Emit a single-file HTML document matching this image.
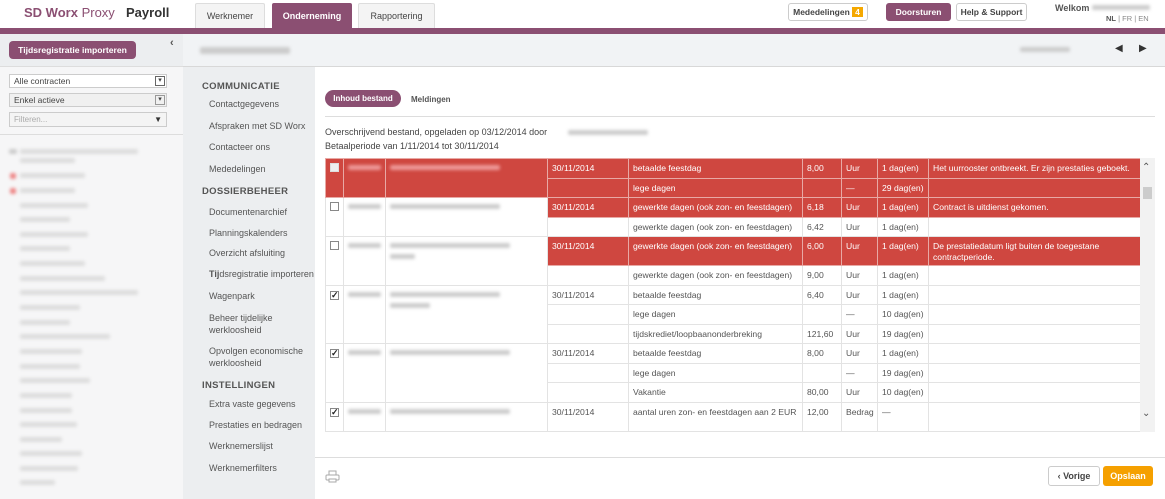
<!DOCTYPE html>
<html><head><meta charset="utf-8"><style>
*{box-sizing:border-box;margin:0;padding:0}
body{width:1165px;height:499px;overflow:hidden;font-family:"Liberation Sans",Arial,sans-serif;background:#fff;position:relative;color:#444;font-size:9px}
.abs{position:absolute}
.blur{background:#ccc;filter:blur(1.5px);height:5px;border-radius:2px}
.tab{position:absolute;top:3px;height:25px;border:1px solid #ddd;border-bottom:none;background:#f4f4f4;font-size:9px;color:#444;text-align:center;line-height:24px;border-radius:2px 2px 0 0}
.btn{position:absolute;top:3px;height:18px;border:1px solid #ccc;border-radius:3px;font-size:8.5px;line-height:16px;text-align:center;background:#fff;color:#444;font-weight:bold}
.nav div{position:absolute;left:209px;font-size:9px;color:#555}
.nav .h{left:202px;font-weight:bold;color:#555;font-size:9.5px;letter-spacing:.3px}
table{border-collapse:collapse;position:absolute;left:325px;top:158px;width:815px;table-layout:fixed;font-size:8.6px}
td{border:1px solid #e3e3e3;padding:0 4px;vertical-align:top;color:#555;line-height:11px;padding-top:4px;height:19.5px}
td.r{background:#cf4740;color:#fff;border-color:#e8a9a5}
.cb{width:9px;height:9px;border:1px solid #888;display:inline-block;background:#fff;font-size:9px;line-height:7px;color:#222;text-align:center;font-weight:bold}
.sb div{position:absolute;left:20px;height:5px;background:#ddd;filter:blur(1.5px);border-radius:2px}
</style></head><body>
<div class="abs" style="left:24px;top:5px;font-size:13px;color:#8b4f72;font-weight:bold">SD Worx <span style="font-weight:normal">Proxy</span></div>
<div class="abs" style="left:126px;top:5px;font-size:13px;color:#333;font-weight:bold">Payroll</div>
<div class="tab" style="left:195px;width:70px">Werknemer</div>
<div class="tab" style="left:272px;width:80px;background:#8b4f72;color:#fff;border-color:#8b4f72;font-weight:bold">Onderneming</div>
<div class="tab" style="left:358px;width:77px">Rapportering</div>
<div class="btn" style="left:788px;width:80px">Mededelingen <span style="background:#f5a800;color:#fff;padding:0 3px">4</span></div>
<div class="btn" style="left:886px;width:65px;background:#8b4f72;color:#fff;border-color:#8b4f72">Doorsturen</div>
<div class="btn" style="left:956px;width:71px">Help &amp; Support</div>
<div class="abs" style="left:1055px;top:3px;font-size:9px;font-weight:bold;color:#555">Welkom</div>
<div class="abs blur" style="left:1092px;top:5px;width:58px"></div>
<div class="abs" style="left:1106px;top:14px;font-size:7.5px;color:#888"><b style="color:#555">NL</b> | FR | EN</div>
<div class="abs" style="left:0;top:28px;width:1165px;height:6px;background:#8b4f72"></div>
<div class="abs" style="left:0;top:34px;width:183px;height:465px;background:#f6f6f7"></div>
<div class="abs" style="left:0;top:34px;width:183px;height:33px;background:#eceef0;border-bottom:1px solid #ddd"></div>
<div class="abs" style="left:9px;top:41px;width:127px;height:18px;background:#8b4f72;border-radius:4px;color:#fff;font-weight:bold;font-size:8.6px;line-height:18px;text-align:center">Tijdsregistratie importeren</div>
<div class="abs" style="left:170px;top:37px;font-size:11px;color:#555;font-weight:bold">‹</div>
<div class="abs" style="left:9px;top:74px;width:158px;height:14px;border:1px solid #ccc;background:#fff;font-size:8.5px;padding-left:4px;line-height:12px">Alle contracten<span style="position:absolute;right:1px;top:1px;width:10px;height:10px;border:1px solid #666;font-size:7px;line-height:8px;text-align:center">▾</span></div>
<div class="abs" style="left:9px;top:93px;width:158px;height:14px;border:1px solid #ccc;background:#f0f0f0;font-size:8.5px;padding-left:4px;line-height:12px">Enkel actieve<span style="position:absolute;right:1px;top:1px;width:10px;height:10px;border:1px solid #999;font-size:7px;line-height:8px;text-align:center">▾</span></div>
<div class="abs" style="left:9px;top:112px;width:158px;height:15px;border:1px solid #ccc;background:#f4f4f4;font-size:8px;padding-left:4px;line-height:13px;color:#aaa">Filteren...<span style="position:absolute;right:4px;top:0;color:#333;font-weight:bold">▼</span></div>
<div class="abs" style="left:0;top:134px;width:183px;height:1px;background:#ddd"></div>
<div class="sb">
<div style="left:9px;top:149px;width:8px;background:#ccc"></div>
<div style="top:149px;width:118px"></div><div style="top:158px;width:55px"></div>
<div style="left:10px;top:173px;width:6px;height:6px;background:#e88"></div><div style="top:173px;width:65px"></div>
<div style="left:10px;top:188px;width:6px;height:6px;background:#e88"></div><div style="top:188px;width:55px"></div>
<div style="top:203px;width:68px"></div><div style="top:217px;width:50px"></div><div style="top:232px;width:68px"></div><div style="top:246px;width:50px"></div><div style="top:261px;width:65px"></div><div style="top:276px;width:85px"></div><div style="top:290px;width:118px"></div><div style="top:305px;width:60px"></div><div style="top:320px;width:50px"></div><div style="top:334px;width:90px"></div><div style="top:349px;width:62px"></div><div style="top:364px;width:60px"></div><div style="top:378px;width:70px"></div><div style="top:393px;width:52px"></div><div style="top:408px;width:52px"></div><div style="top:422px;width:57px"></div><div style="top:437px;width:42px"></div><div style="top:451px;width:62px"></div><div style="top:466px;width:58px"></div><div style="top:480px;width:35px"></div>
</div>
<div class="abs" style="left:183px;top:34px;width:982px;height:33px;background:#f1f3f5;border-bottom:1px solid #d8d8d8"></div>
<div class="abs blur" style="left:200px;top:47px;width:90px;height:7px"></div>
<div class="abs blur" style="left:1020px;top:47px;width:50px"></div>
<div class="abs" style="left:1115px;top:43px;font-size:10px;color:#333">◀</div>
<div class="abs" style="left:1139px;top:43px;font-size:10px;color:#333">▶</div>
<div class="abs" style="left:183px;top:67px;width:132px;height:432px;background:#eceef0"></div>
<div class="nav">
<div class="h" style="top:81px">COMMUNICATIE</div>
<div style="top:99px">Contactgegevens</div>
<div style="top:121px">Afspraken met SD Worx</div>
<div style="top:142px">Contacteer ons</div>
<div style="top:164px">Mededelingen</div>
<div class="h" style="top:186px">DOSSIERBEHEER</div>
<div style="top:207px">Documentenarchief</div>
<div style="top:228px">Planningskalenders</div>
<div style="top:248px">Overzicht afsluiting</div>
<div style="top:269px"><b>Tij</b>dsregistratie importeren</div>
<div style="top:291px">Wagenpark</div>
<div style="top:312px;line-height:12px">Beheer tijdelijke<br>werkloosheid</div>
<div style="top:345px;line-height:12px">Opvolgen economische<br>werkloosheid</div>
<div class="h" style="top:380px">INSTELLINGEN</div>
<div style="top:399px">Extra vaste gegevens</div>
<div style="top:420px">Prestaties en bedragen</div>
<div style="top:441px">Werknemerslijst</div>
<div style="top:463px">Werknemerfilters</div>
</div>
<div class="abs" style="left:325px;top:90px;width:76px;height:17px;background:#8b4f72;border-radius:9px;color:#fff;font-weight:bold;font-size:8px;line-height:17px;text-align:center">Inhoud bestand</div>
<div class="abs" style="left:411px;top:95px;font-size:8px;font-weight:bold;color:#555">Meldingen</div>
<div class="abs" style="left:325px;top:116px;width:830px;height:1px;background:#ddd"></div>
<div class="abs" style="left:325px;top:127px;font-size:9px;color:#444">Overschrijvend bestand, opgeladen op 03/12/2014 door</div>
<div class="abs blur" style="left:568px;top:130px;width:80px"></div>
<div class="abs" style="left:325px;top:141px;font-size:9px;color:#444">Betaalperiode van 1/11/2014 tot 30/11/2014</div>
<table>
<colgroup><col style="width:18px"><col style="width:42px"><col style="width:162px"><col style="width:81px"><col style="width:174px"><col style="width:39px"><col style="width:36px"><col style="width:51px"><col style="width:212px"></colgroup>
<tr><td class="r" rowspan="2"><span class="cb" style="background:#eee;border-color:#ddd"></span></td><td class="r" rowspan="2"><div class="blur" style="background:#e99;margin-top:2px"></div></td><td class="r" rowspan="2"><div class="blur" style="background:#e99;margin-top:2px;width:110px"></div></td><td class="r">30/11/2014</td><td class="r">betaalde feestdag</td><td class="r">8,00</td><td class="r">Uur</td><td class="r">1 dag(en)</td><td class="r">Het uurrooster ontbreekt. Er zijn prestaties geboekt.</td></tr>
<tr><td class="r"></td><td class="r">lege dagen</td><td class="r"></td><td class="r">—</td><td class="r">29 dag(en)</td><td class="r"></td></tr>
<tr><td rowspan="2"><span class="cb"></span></td><td rowspan="2"><div class="blur" style="margin-top:2px"></div></td><td rowspan="2"><div class="blur" style="margin-top:2px;width:110px"></div></td><td class="r">30/11/2014</td><td class="r">gewerkte dagen (ook zon- en feestdagen)</td><td class="r">6,18</td><td class="r">Uur</td><td class="r">1 dag(en)</td><td class="r">Contract is uitdienst gekomen.</td></tr>
<tr><td></td><td>gewerkte dagen (ook zon- en feestdagen)</td><td>6,42</td><td>Uur</td><td>1 dag(en)</td><td></td></tr>
<tr><td rowspan="2"><span class="cb"></span></td><td rowspan="2"><div class="blur" style="margin-top:2px"></div></td><td rowspan="2"><div class="blur" style="margin-top:2px;width:120px"></div><div class="blur" style="margin-top:6px;width:25px"></div></td><td class="r" style="height:29px">30/11/2014</td><td class="r">gewerkte dagen (ook zon- en feestdagen)</td><td class="r">6,00</td><td class="r">Uur</td><td class="r">1 dag(en)</td><td class="r">De prestatiedatum ligt buiten de toegestane contractperiode.</td></tr>
<tr><td></td><td>gewerkte dagen (ook zon- en feestdagen)</td><td>9,00</td><td>Uur</td><td>1 dag(en)</td><td></td></tr>
<tr><td rowspan="3"><span class="cb">✓</span></td><td rowspan="3"><div class="blur" style="margin-top:2px"></div></td><td rowspan="3"><div class="blur" style="margin-top:2px;width:110px"></div><div class="blur" style="margin-top:6px;width:40px"></div></td><td>30/11/2014</td><td>betaalde feestdag</td><td>6,40</td><td>Uur</td><td>1 dag(en)</td><td></td></tr>
<tr><td></td><td>lege dagen</td><td></td><td>—</td><td>10 dag(en)</td><td></td></tr>
<tr><td></td><td>tijdskrediet/loopbaanonderbreking</td><td>121,60</td><td>Uur</td><td>19 dag(en)</td><td></td></tr>
<tr><td rowspan="3"><span class="cb">✓</span></td><td rowspan="3"><div class="blur" style="margin-top:2px"></div></td><td rowspan="3"><div class="blur" style="margin-top:2px;width:120px"></div></td><td>30/11/2014</td><td>betaalde feestdag</td><td>8,00</td><td>Uur</td><td>1 dag(en)</td><td></td></tr>
<tr><td></td><td>lege dagen</td><td></td><td>—</td><td>19 dag(en)</td><td></td></tr>
<tr><td></td><td>Vakantie</td><td>80,00</td><td>Uur</td><td>10 dag(en)</td><td></td></tr>
<tr><td><span class="cb">✓</span></td><td><div class="blur" style="margin-top:2px"></div></td><td><div class="blur" style="margin-top:2px;width:120px"></div></td><td style="height:29px">30/11/2014</td><td>aantal uren zon- en feestdagen aan 2 EUR</td><td>12,00</td><td>Bedrag</td><td>—</td><td></td></tr>
</table>
<div class="abs" style="left:325px;top:433px;width:830px;height:20px;background:#fff"></div>
<div class="abs" style="left:1140px;top:158px;width:15px;height:274px;background:#f2f2f2"></div>
<div class="abs" style="left:1143px;top:187px;width:9px;height:12px;background:#ccc"></div>
<div class="abs" style="left:1142px;top:162px;font-size:10px;color:#555">⌃</div>
<div class="abs" style="left:1142px;top:408px;font-size:10px;color:#555">⌄</div>
<div class="abs" style="left:315px;top:457px;width:850px;height:1px;background:#ddd"></div>
<svg class="abs" style="left:325px;top:470px" width="15" height="13" viewBox="0 0 15 13"><rect x="4" y="1" width="7" height="4" fill="none" stroke="#aaa"/><rect x="1" y="5" width="13" height="5" rx="1" fill="none" stroke="#aaa"/><rect x="4" y="9" width="7" height="3" fill="#fff" stroke="#aaa"/></svg>
<div class="abs" style="left:1048px;top:466px;width:52px;height:20px;border:1px solid #ccc;border-radius:3px;font-size:9px;font-weight:bold;line-height:18px;text-align:center;color:#444">‹ Vorige</div>
<div class="abs" style="left:1103px;top:466px;width:50px;height:20px;background:#f5a000;border-radius:3px;font-size:9px;font-weight:bold;line-height:20px;text-align:center;color:#fff">Opslaan</div>
</body></html>
